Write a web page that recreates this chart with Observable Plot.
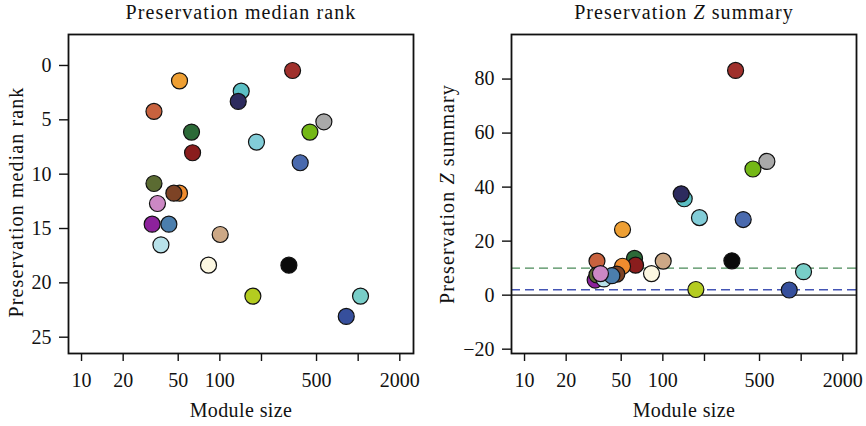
<!DOCTYPE html>
<html>
<head>
<meta charset="utf-8">
<script src="https://cdn.jsdelivr.net/npm/d3@7"></script>
<script src="https://cdn.jsdelivr.net/npm/@observablehq/plot@0.6"></script>
<style>
  html, body { margin: 0; padding: 0; background: white; }
  #wrap { display: flex; width: 866px; height: 426px; }
  svg { display: block; }
</style>
</head>
<body>
<div id="wrap"></div>
<script>
// ---- data ----
const moduleNames = ["turquoise","midnightblue","red","orange","coral","grey60","yellowgreen","darkgreen",
  "darkred","skyblue","blue","purple","darkolivegreen","lightblue","darkorange","saddlebrown",
  "steelblue","plum","tan","ivory","black","greenyellow","paleturquoise","royalblue"];
const moduleSizes = [142.7, 135.8, 335.6, 51.1, 33.4, 565, 447.9, 62.4,
  63.5, 184, 381, 32.4, 33.4, 37.5, 51.1, 46.5,
  42.8, 35.4, 100.6, 82.8, 315.6, 173.3, 1040, 820];
const medianRank = [2.36, 3.31, 0.46, 1.41, 4.23, 5.18, 6.13, 6.13,
  8.03, 7.05, 8.95, 14.6, 10.86, 16.5, 11.75, 11.75,
  14.6, 12.7, 15.55, 18.37, 18.37, 21.22, 21.22, 23.09];
const zSummary = [35.7, 37.5, 83.2, 24.3, 12.6, 49.5, 46.7, 13.6,
  11.1, 28.7, 28.0, 5.6, 7.5, 6.0, 10.7, 7.8,
  7.2, 8.0, 12.6, 8.0, 12.7, 2.1, 8.7, 1.9];
const moduleColors = ["#5BBFC4","#2D2B5E","#A0302C","#EE9F33","#C8623E","#A9A9A9","#74B816","#2C6A38",
  "#8A1D1D","#82CDD8","#4A6AAE","#8D229C","#5B6B32","#B8E2EA","#F08C2E","#7D4325",
  "#4B7EAD","#CC88C4","#CCA886","#FDF8E2","#0A0A0A","#B4CC20","#78CEC8","#364F9C"];

const xTicks = [10, 20, 50, 100, 200, 500, 1000, 2000];
const xLabelled = [10, 20, 50, 100, 500, 2000];
const rankTicks = [0, 5, 10, 15, 20, 25];
const zTicks = [-20, 0, 20, 40, 60, 80];
const zeroLine = [0];
const zThresholds = [2, 10];
const thresholdColors = ["#4455B5", "#4A8A58"];

const FONT = "Liberation Serif, Times New Roman, serif";

function panel({yValues, yDomain, yReverse, yTicks, title, ylabel, ml, mr, ylabDx, ylabDy, extra}) {
  const data = moduleSizes.map((s, i) => ({size: s, y: yValues[i], color: moduleColors[i]}));
  const plot = Plot.plot({
    width: 433, height: 426,
    marginLeft: ml, marginRight: mr, marginTop: 34, marginBottom: 73,
    style: {fontFamily: FONT, fontSize: "20px", background: "white", color: "#111", overflow: "visible"},
    x: {type: "log", domain: [8.05, 2512]},
    y: {domain: yDomain, reverse: yReverse},
    marks: [
      ...extra,
      Plot.dot(data, {x: "size", y: "y", r: 8, fill: "color", stroke: "#111", strokeWidth: 1.2}),
      Plot.frame({stroke: "#111", strokeWidth: 1.8}),
      Plot.axisX({ticks: xTicks, tickFormat: () => "", tickSize: 8, strokeWidth: 1.4, label: null}),
      Plot.text(xLabelled, {x: d => d, frameAnchor: "bottom", lineAnchor: "top", dy: 19,
        fontSize: 20, fill: "#111", text: d => String(d)}),
      Plot.axisY({ticks: yTicks, tickSize: 9, tickPadding: 8, strokeWidth: 1.4, label: null, fontSize: 20}),
      Plot.text([title], {frameAnchor: "top", lineAnchor: "bottom", dy: -16, fontSize: 20,
        fill: "#111", textAnchor: "middle", className: "ttl"}),
      Plot.text(["Module size"], {frameAnchor: "bottom", lineAnchor: "bottom", dy: 63, fontSize: 20,
        fill: "#111", textAnchor: "middle", className: "xlab"}),
      Plot.text([ylabel], {frameAnchor: "left", rotate: -90, dx: ylabDx, dy: ylabDy, fontSize: 20,
        fill: "#111", textAnchor: "middle", className: "ylab"})
    ]
  });
  const root = d3.select(plot);
  root.selectAll(".ttl text, .ylab text").attr("letter-spacing", "1.1px");
  root.selectAll(".xlab text").attr("letter-spacing", "0.4px");
  // italic Z
  root.selectAll("text").each(function() {
    const t = this.textContent;
    if (t.includes(" Z ")) {
      const parts = t.split(" Z ");
      const sel = d3.select(this);
      sel.text(null);
      sel.append("tspan").text(parts[0] + " ");
      sel.append("tspan").attr("font-style", "italic").text("Z");
      sel.append("tspan").text(" " + parts[1]);
    }
  });
  return plot;
}

const wrap = document.getElementById("wrap");
wrap.appendChild(panel({
  yValues: medianRank, yDomain: [-2.85, 26.5], yReverse: true, yTicks: rankTicks,
  title: "Preservation median rank", ylabel: "Preservation median rank",
  ml: 68, mr: 20, ylabDx: -52, ylabDy: 8, extra: []
}));
wrap.appendChild(panel({
  yValues: zSummary, yDomain: [-21.6, 96.5], yReverse: false, yTicks: zTicks,
  title: "Preservation Z summary", ylabel: "Preservation Z summary",
  ml: 78, mr: 10, ylabDx: -64, ylabDy: 0,
  extra: [
    Plot.ruleY(zeroLine, {stroke: "#555", strokeWidth: 1.6}),
    Plot.ruleY(zThresholds, {stroke: (d, i) => thresholdColors[i], strokeWidth: 1.3, strokeDasharray: "9,5"})
  ]
}));
</script>
</body>
</html>
